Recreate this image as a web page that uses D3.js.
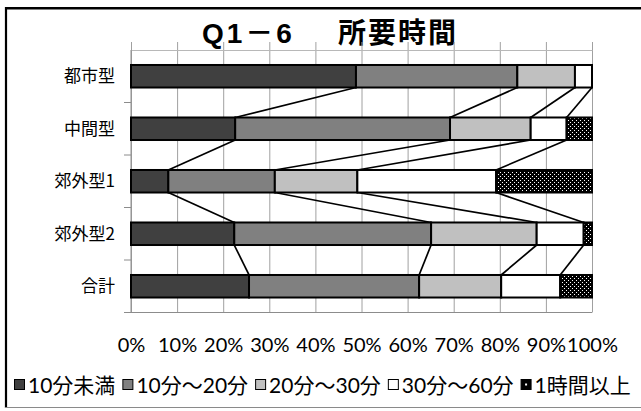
<!DOCTYPE html>
<html>
<head>
<meta charset="utf-8">
<script src="https://cdn.jsdelivr.net/npm/d3@7"></script>
<style>
  html, body { margin: 0; padding: 0; background: #fff; }
  svg { display: block; }
</style>
</head>
<body>
<svg id="chart" width="641" height="411"></svg>
<script>
// Travel time by area type (percent of respondents)
const categories = ["都市型", "中間型", "郊外型1", "郊外型2", "合計"];
const seriesNames = ["10分未満", "10分～20分", "20分～30分", "30分～60分", "1時間以上"];
const under10 = [48.8, 22.6, 8.1, 22.4, 25.6];
const from10to20 = [35.0, 46.6, 23.1, 42.7, 36.9];
const from20to30 = [12.5, 17.5, 17.9, 22.9, 17.8];
const from30to60 = [3.7, 7.8, 30.1, 10.2, 12.8];
const overHour = [0.0, 5.5, 20.8, 1.8, 6.9];
const tickValues = [0, 10, 20, 30, 40, 50, 60, 70, 80, 90, 100];
const titleText = ["Q1－6", "所要時間"];

const seriesValues = [under10, from10to20, from20to30, from30to60, overHour];
const rows = categories.map((c, i) => {
  const r = { cat: c };
  seriesNames.forEach((s, j) => r[s] = seriesValues[j][i]);
  return r;
});

const svg = d3.select("#chart");
const W = 641, H = 411;
const plotL = 131, plotR = 592, plotT = 50, plotB = 312.5;

const x = d3.scaleLinear().domain([0, 100]).range([plotL, plotR]);
const y = d3.scaleBand().domain(categories).range([plotT, plotB])
  .paddingInner(0.571).paddingOuter(0.2855);

const fills = ["#404040", "#808080", "#c0c0c0", "#ffffff", "url(#dots)"];

// dotted fill for the last series
const defs = svg.append("defs");
const pat = defs.append("pattern").attr("id", "dots")
  .attr("patternUnits", "userSpaceOnUse").attr("width", 4).attr("height", 4);
pat.append("rect").attr("width", 4).attr("height", 4).attr("fill", "#000");
pat.append("rect").attr("x", 0).attr("y", 0).attr("width", 1).attr("height", 1).attr("fill", "#fff");
pat.append("rect").attr("x", 2).attr("y", 2).attr("width", 1).attr("height", 1).attr("fill", "#fff");

// chart frame
svg.append("rect").attr("width", W).attr("height", H).attr("fill", "#fff");
svg.append("line").attr("x1", 6).attr("x2", W).attr("y1", 8.3).attr("y2", 8.3)
  .attr("stroke", "#000").attr("stroke-width", 2.4);
svg.append("line").attr("x1", 6).attr("x2", 6).attr("y1", 7).attr("y2", 408)
  .attr("stroke", "#000").attr("stroke-width", 2.2);
svg.append("line").attr("x1", 5).attr("x2", W).attr("y1", 407.5).attr("y2", 407.5)
  .attr("stroke", "#8a8a8a").attr("stroke-width", 1);

// title
const title = svg.append("text").attr("y", 42.5)
  .attr("font-family", "'Liberation Sans', Arial, 'Noto Sans CJK JP', sans-serif")
  .attr("font-weight", "bold").attr("font-size", 28).attr("fill", "#000");
title.append("tspan").attr("x", 202).attr("letter-spacing", 3).text(titleText[0]);
title.append("tspan").attr("x", 338).attr("letter-spacing", 2)
  .attr("font-family", "'Noto Sans CJK JP', sans-serif").text(titleText[1]);

// vertical gridlines
const grid = svg.append("g").attr("transform", `translate(0,${plotB})`)
  .call(d3.axisBottom(x).tickValues(tickValues).tickSize(-(plotB - 42)).tickFormat(""));
grid.select(".domain").remove();
grid.selectAll(".tick line").attr("stroke", "#a0a0a0").attr("stroke-width", 1);

// top value axis line
const topAxis = svg.append("g").attr("transform", `translate(0,${plotT})`)
  .call(d3.axisTop(x).tickValues(tickValues).tickSize(0).tickFormat(""));
topAxis.select(".domain").attr("stroke", "#b8b8b8").attr("stroke-width", 1);

// category axis
svg.append("line").attr("x1", plotL).attr("x2", plotL).attr("y1", plotT).attr("y2", plotB)
  .attr("stroke", "#8c8c8c");
const bounds = categories.slice(1).map(c => y(c) - y.step() * y.paddingInner() / 2);
bounds.push(plotB);
svg.append("g").selectAll("line").data(bounds).join("line")
  .attr("x1", 124).attr("x2", plotL).attr("y1", d => d).attr("y2", d => d)
  .attr("stroke", "#8c8c8c");
svg.append("line").attr("x1", 124).attr("x2", plotR).attr("y1", plotB).attr("y2", plotB)
  .attr("stroke", "#8c8c8c");

svg.append("g").selectAll("text").data(categories).join("text")
  .attr("x", 115).attr("y", d => y(d) + y.bandwidth() / 2)
  .attr("dy", "0.36em").attr("text-anchor", "end")
  .attr("font-family", "'Noto Sans CJK JP', sans-serif").attr("font-size", 17)
  .attr("fill", "#000").text(d => d);

// stacked bars
const stack = d3.stack().keys(seriesNames)(rows);

// series lines between neighbouring bars
const lineData = [];
for (let k = 0; k < 4; k++) {
  for (let i = 0; i < categories.length - 1; i++) {
    lineData.push({
      x1: x(stack[k][i][1]), y1: y(categories[i]) + y.bandwidth(),
      x2: x(stack[k][i + 1][1]), y2: y(categories[i + 1])
    });
  }
}
svg.append("g").selectAll("line").data(lineData).join("line")
  .attr("x1", d => d.x1).attr("y1", d => d.y1).attr("x2", d => d.x2).attr("y2", d => d.y2)
  .attr("stroke", "#000").attr("stroke-width", 1.7);

svg.append("g").selectAll("g").data(stack).join("g")
  .attr("fill", (d, i) => fills[i])
  .selectAll("rect").data(d => d.filter(p => p[1] - p[0] > 0)).join("rect")
  .attr("x", d => x(d[0])).attr("width", d => x(d[1]) - x(d[0]))
  .attr("y", d => y(d.data.cat)).attr("height", y.bandwidth())
  .attr("stroke", "#000").attr("stroke-width", 2);

// value labels
const valAxis = svg.append("g").attr("transform", "translate(0,335)")
  .call(d3.axisBottom(x).tickValues(tickValues).tickSize(0).tickFormat(d => d + "%"));
valAxis.select(".domain").remove();
valAxis.selectAll("text").attr("font-family", "Lato, 'Liberation Sans', sans-serif")
  .attr("font-size", 20).attr("fill", "#000");

// legend
const legend = svg.append("g").attr("font-family", "Lato, 'Noto Sans CJK JP', sans-serif")
  .attr("font-size", 21);
let lx = 14;
seriesNames.forEach((name, i) => {
  const g = legend.append("g").attr("transform", `translate(${lx},385)`);
  g.append("rect").attr("x", 0.5).attr("y", -5.5).attr("width", 10).attr("height", 10)
    .attr("fill", i === 4 ? "#000" : fills[i]).attr("stroke", "#000").attr("stroke-width", 1);
  if (i === 4) {
    g.append("rect").attr("x", 4.5).attr("y", -1.5).attr("width", 2).attr("height", 2).attr("fill", "#fff");
  }
  const t = g.append("text").attr("x", 14).attr("y", 0).attr("dy", "0.36em")
    .attr("fill", "#000").text(name);
  lx += 14 + t.node().getComputedTextLength() + 7;
});
</script>
</body>
</html>
